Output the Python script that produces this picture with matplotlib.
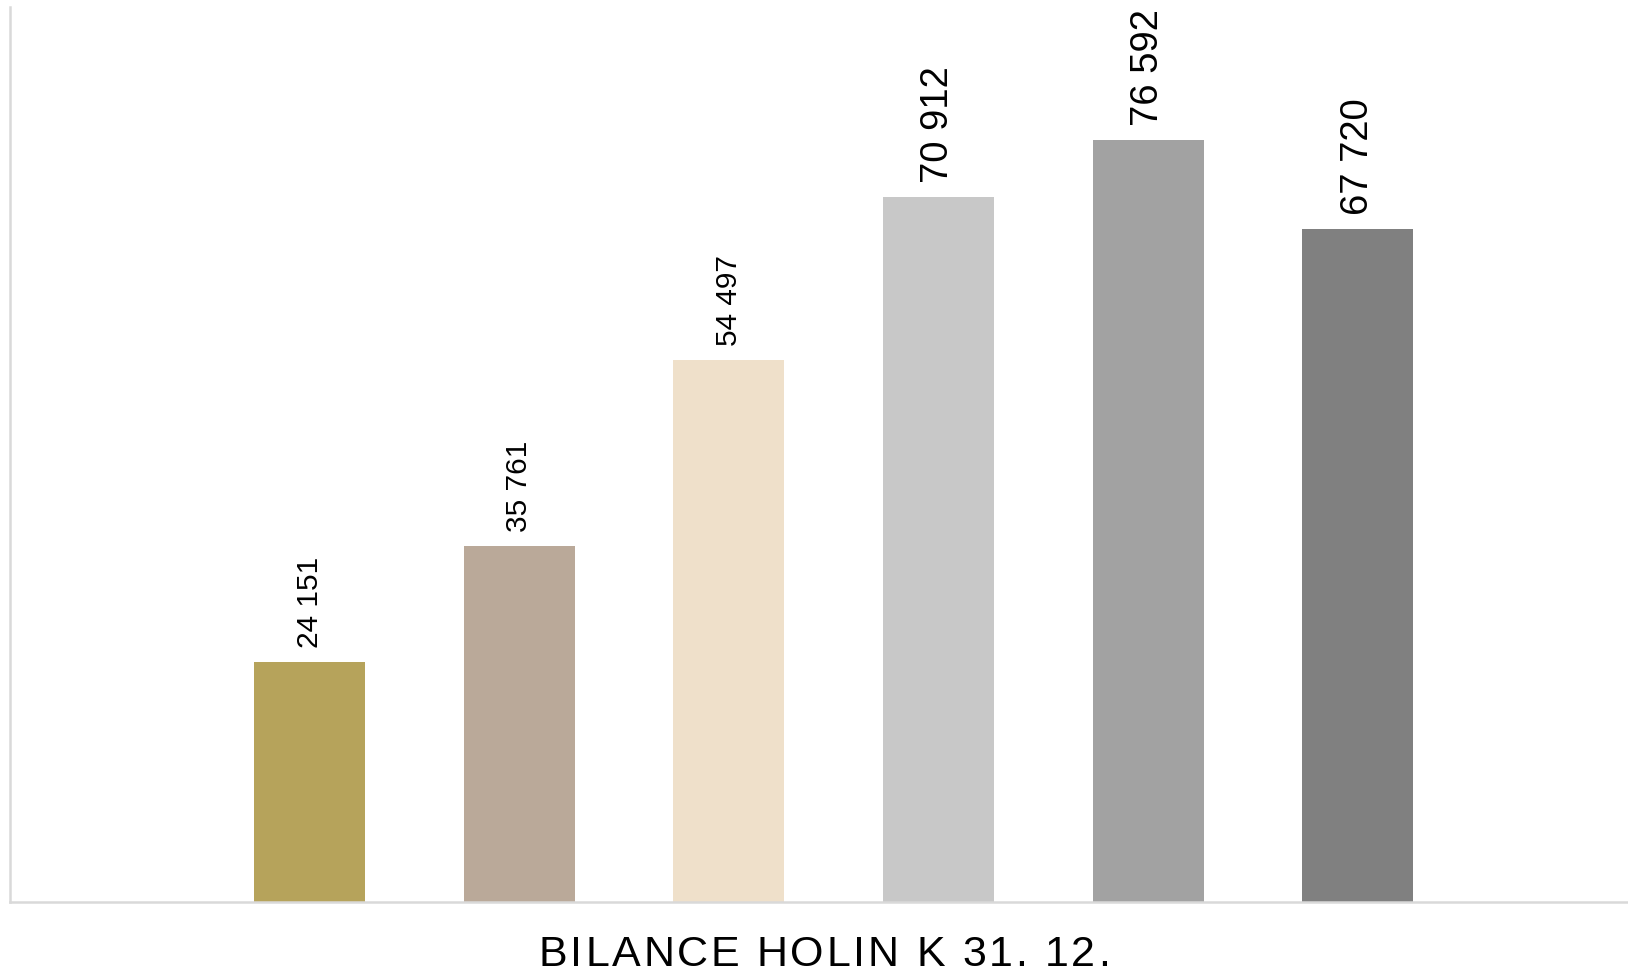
import matplotlib
matplotlib.use("Agg")
import matplotlib.pyplot as plt
from matplotlib import font_manager
from matplotlib.ft2font import FT2Font

# data
categories = ["2019", "2020", "2021", "2022", "2023", "2024"]
values = [24151, 35761, 54497, 70912, 76592, 67720]
bar_colors = ["#b6a35b", "#baa999", "#efe0ca", "#c8c8c8", "#a2a2a2", "#808080"]
label_sizes = [21.5, 21.5, 21.5, 27.5, 27.5, 27.5]
title_text = "BILANCE HOLIN K 31. 12."

plt.rcParams['font.family'] = ['Liberation Sans', 'DejaVu Sans']

fig = plt.figure(figsize=(16.28, 9.71), dpi=100)
ax = fig.add_axes([10 / 1628, 69 / 971, 1618 / 1628, 895 / 971])

x_pos = list(range(len(values)))
bars = ax.bar(x_pos, values, width=0.53, color=bar_colors, zorder=2)

# popisky nad sloupci
for xi, v, fs in zip(x_pos, values, label_sizes):
    txt = "{:,}".format(v).replace(",", " ")
    ax.annotate(txt, (xi, v), xytext=(0, 10), textcoords="offset points",
                rotation=90, ha="center", va="bottom", fontsize=fs, color="black")

ax.set_xlim(-1.43, 6.29)
ax.set_ylim(0, 90000)
ax.set_xticks([])
ax.set_yticks([])
for side in ["top", "right"]:
    ax.spines[side].set_visible(False)
for side in ["left", "bottom"]:
    ax.spines[side].set_color("#d9d9d9")
    ax.spines[side].set_linewidth(1.8)

# nadpis s rozestupem pismen
title_size = 31
spacing_px = 2.7
font_path = font_manager.findfont(font_manager.FontProperties(family="Liberation Sans"))
ft = FT2Font(font_path)
ft.set_size(title_size, 100)
advances = []
for ch in title_text:
    g = ft.load_char(ord(ch))
    advances.append(g.linearHoriAdvance / 65536.0)
x_px = 539
for ch, adv in zip(title_text, advances):
    fig.text(x_px / 1628, (971 - 966) / 971, ch, fontsize=title_size,
             ha="left", va="baseline", color="black")
    x_px += adv + spacing_px

fig.savefig("out.png", dpi=100, facecolor="white")
